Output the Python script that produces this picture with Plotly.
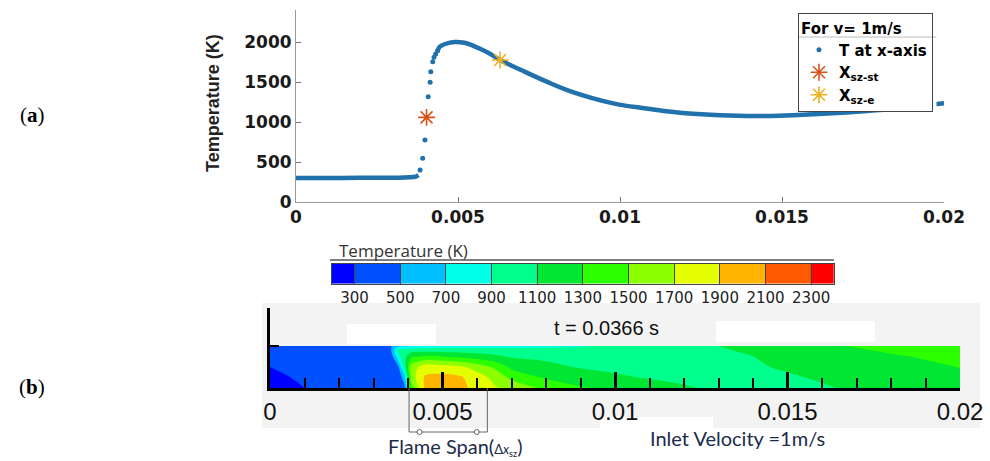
import plotly.graph_objects as go

W, H = 990, 461

# ---------------- (a) temperature along the axis ----------------
# smooth parts of the profile (unburnt gas and post-flame region)
X_FLAT = [0.0, 0.001, 0.002, 0.003, 0.0035, 0.0037, 0.00378]
T_FLAT = [300, 301, 302, 304, 308, 318, 335]

# sparse samples through the steep flame front
X_RISE = [0.00383, 0.00391, 0.00398, 0.00408, 0.00414, 0.00416, 0.00422,
          0.00426, 0.00431, 0.00437]
T_RISE = [400, 546, 775, 1316, 1496, 1629, 1754, 1808, 1850, 1891]

X_TAIL = [0.00437, 0.00444, 0.0046, 0.0049, 0.0052, 0.0054, 0.00568, 0.006,
          0.0063, 0.007, 0.00774, 0.0085, 0.00979, 0.0108, 0.01185, 0.0128,
          0.0139, 0.0149, 0.01597, 0.017, 0.018, 0.019, 0.02]
T_TAIL = [1891, 1941, 1975, 2000, 1990, 1965, 1915, 1850,
          1775, 1640, 1504, 1380, 1233, 1170, 1116, 1090,
          1075, 1078, 1096, 1120, 1150, 1190, 1233]

X_SZ_ST, T_SZ_ST = 0.00403, 1058   # start of flame span
X_SZ_E, T_SZ_E = 0.0063, 1775      # end of flame span

X_TICKS = [0, 0.005, 0.01, 0.015, 0.02]
X_TICK_TEXT = ["0", "0.005", "0.01", "0.015", "0.02"]
Y_TICKS = [0, 500, 1000, 1500, 2000]

# ---------------- (b) temperature field in the channel ----------------
LEVELS = [300, 500, 700, 900, 1100, 1300, 1500, 1700, 1900, 2100, 2300]
BAND_COLORS = ["#0000ff", "#0050ff", "#00bfff", "#00ffe6", "#00ff8c", "#00e632",
               "#2cff00", "#8cff00", "#e6ff00", "#ffb400", "#ff5a00", "#ff0000"]

FIELD_X = [0.0, 0.001, 0.002, 0.003, 0.0035, 0.0037, 0.0039, 0.0041, 0.0045,
           0.005, 0.0055, 0.006, 0.0065, 0.007, 0.008, 0.009, 0.010, 0.011,
           0.012, 0.013, 0.014, 0.015, 0.016, 0.017, 0.018, 0.019, 0.020]
FIELD_ETA = [0.0, 0.25, 0.5, 0.75, 0.9, 1.0]   # 0 = axis, 1 = wall
T_ETA_000 = [250, 300, 310, 310, 315, 320, 450, 1400, 1950, 2000, 1950, 1845, 1720,
             1640, 1450, 1320, 1230, 1160, 1110, 1085, 1072, 1075, 1090, 1115, 1150, 1190, 1230]
T_ETA_025 = [270, 320, 320, 320, 320, 330, 620, 1600, 1930, 1960, 1930, 1790, 1650,
             1450, 1275, 1200, 1120, 1090, 1080, 1075, 1075, 1090, 1110, 1140, 1180, 1220, 1260]
T_ETA_050 = [300, 330, 330, 330, 335, 420, 1000, 1600, 1800, 1790, 1740, 1620, 1470,
             1250, 1150, 1085, 1070, 1060, 1065, 1075, 1090, 1110, 1150, 1180, 1220, 1260, 1305]
T_ETA_075 = [330, 340, 340, 340, 360, 800, 1050, 1250, 1330, 1300, 1260, 1200, 1140,
             1080, 1060, 1040, 1030, 1040, 1055, 1070, 1100, 1140, 1190, 1230, 1275, 1320, 1360]
T_ETA_090 = [340, 340, 340, 340, 470, 900, 1000, 1020, 1020, 1020, 1010, 1000, 1000,
             1000, 990, 990, 1000, 1030, 1050, 1080, 1130, 1190, 1240, 1275, 1330, 1370, 1410]
T_ETA_100 = [340, 340, 340, 340, 480, 620, 650, 700, 760, 780, 790, 800, 800,
             810, 830, 880, 940, 1000, 1050, 1100, 1150, 1200, 1255, 1320, 1380, 1420, 1450]

BLUE = "#2071ac"


def px_x(p):
    return p / W


def px_y(p):
    return 1 - p / H


fig = go.Figure()

# curve: smooth sections as a line, broken across the front
fig.add_trace(go.Scatter(
    x=X_FLAT + [None] + X_TAIL, y=T_FLAT + [None] + T_TAIL,
    mode="lines", line=dict(color=BLUE, width=4.5, shape="spline"),
    connectgaps=False, showlegend=False, hoverinfo="skip",
    xaxis="x", yaxis="y"))
fig.add_trace(go.Scatter(
    x=X_RISE, y=T_RISE, mode="markers", name="T at x-axis",
    marker=dict(color=BLUE, size=5), xaxis="x", yaxis="y"))
fig.add_trace(go.Scatter(
    x=[X_SZ_ST], y=[T_SZ_ST], mode="markers", name="X<sub>sz-st</sub>",
    marker=dict(symbol="asterisk-open", size=14, color="#D95319",
                line=dict(color="#D95319", width=1.6)), xaxis="x", yaxis="y"))
fig.add_trace(go.Scatter(
    x=[X_SZ_E], y=[T_SZ_E], mode="markers", name="X<sub>sz-e</sub>",
    marker=dict(symbol="asterisk-open", size=14, color="#EDB120",
                line=dict(color="#EDB120", width=1.6)), xaxis="x", yaxis="y"))

# contour field; fill colour of each band taken at its mid value
n_bands = len(BAND_COLORS)
band_scale = [[k / (n_bands - 1), c] for k, c in enumerate(BAND_COLORS)]
step = LEVELS[1] - LEVELS[0]
fig.add_trace(go.Contour(
    x=FIELD_X, y=FIELD_ETA,
    z=[T_ETA_000, T_ETA_025, T_ETA_050, T_ETA_075, T_ETA_090, T_ETA_100],
    autocontour=False,
    contours=dict(start=LEVELS[0], end=LEVELS[-1], size=step,
                  coloring="fill", showlines=False),
    line=dict(width=0, smoothing=1.0),
    colorscale=band_scale, showscale=False, hoverinfo="skip",
    xaxis="x2", yaxis="y2"))

# horizontal colour key
key_edges = [LEVELS[0] - step / 2] + LEVELS + [LEVELS[-1] + step / 2]
key_mids = [LEVELS[0] - step / 2 + step * k for k in range(n_bands)]
fig.add_trace(go.Heatmap(
    x=key_edges, y=[0, 1], z=[key_mids],
    colorscale=band_scale, zmin=key_mids[0], zmax=key_mids[-1],
    showscale=False, hoverinfo="skip", xaxis="x3", yaxis="y3"))

bold_font = dict(family="DejaVu Sans", size=17, color="#1a1a1a", weight="bold")

fig.update_layout(
    width=W, height=H, template="none",
    margin=dict(l=0, r=0, t=0, b=0),
    paper_bgcolor="white", plot_bgcolor="rgba(0,0,0,0)",
    showlegend=True,
    xaxis=dict(domain=[px_x(296), px_x(944)], range=[0, 0.02], anchor="y",
               tickvals=X_TICKS, ticktext=X_TICK_TEXT, tickfont=bold_font,
               ticks="inside", ticklen=5, tickcolor="#777", showgrid=False,
               zeroline=False, showline=True, linecolor="#999", linewidth=1),
    yaxis=dict(domain=[px_y(202), px_y(10)], range=[0, 2400], anchor="x",
               tickvals=Y_TICKS, tickfont=bold_font,
               ticks="inside", ticklen=5, tickcolor="#777", showgrid=False,
               zeroline=False, showline=True, linecolor="#999", linewidth=1),
    xaxis2=dict(domain=[px_x(270), px_x(960)], range=[0, 0.02], anchor="y2",
                tickvals=X_TICKS, ticktext=X_TICK_TEXT,
                tickfont=dict(family="Liberation Sans", size=24, color="#111"),
                ticks="inside", ticklen=16, tickwidth=3, tickcolor="black",
                minor=dict(dtick=0.001, ticks="inside", ticklen=10, tickwidth=2,
                           tickcolor="black", showgrid=False),
                showgrid=False, zeroline=False, showline=True, linecolor="black",
                linewidth=3, layer="above traces"),
    yaxis2=dict(domain=[px_y(388), px_y(308)], range=[0, 80 / 42], anchor="x2",
                tickvals=[1], showticklabels=False, ticks="inside", ticklen=9,
                tickwidth=2, tickcolor="black", showgrid=False, zeroline=False,
                showline=True, linecolor="black", linewidth=3,
                layer="above traces"),
    xaxis3=dict(domain=[px_x(331.7), px_x(834)], range=[key_edges[0], key_edges[-1]],
                anchor="y3", tickvals=LEVELS,
                tickfont=dict(family="DejaVu Sans", size=15, color="#222"),
                ticks="inside", ticklen=20, tickcolor="#444", tickwidth=1,
                showgrid=False, zeroline=False, showline=True, mirror=True,
                linecolor="#444", linewidth=1, layer="above traces"),
    yaxis3=dict(domain=[px_y(283.7), px_y(263.7)], range=[0, 1], anchor="x3",
                showticklabels=False, ticks="", showgrid=False, zeroline=False,
                showline=True, mirror=True, linecolor="#444", linewidth=1),
    legend=dict(x=px_x(798), y=px_y(13), xanchor="left", yanchor="top",
                bgcolor="rgba(0,0,0,0)", bordercolor="#444", borderwidth=1,
                font=dict(family="DejaVu Sans", size=15, color="black", weight="bold"),
                title=dict(text="For v= 1m/s",
                           font=dict(family="DejaVu Sans", size=15, color="black",
                                     weight="bold")),
                itemwidth=30, tracegroupgap=0),
)

shapes = [
    # light backdrop of the field view
    dict(type="rect", xref="paper", yref="paper", x0=px_x(262), x1=px_x(980),
         y0=px_y(428), y1=px_y(303), fillcolor="#f3f3f3", line=dict(width=0),
         layer="below"),
    dict(type="rect", xref="paper", yref="paper", x0=px_x(347), x1=px_x(436),
         y0=px_y(344), y1=px_y(324), fillcolor="white", line=dict(width=0),
         layer="below"),
    dict(type="rect", xref="paper", yref="paper", x0=px_x(716), x1=px_x(875),
         y0=px_y(342), y1=px_y(321), fillcolor="white", line=dict(width=0),
         layer="below"),
    dict(type="rect", xref="paper", yref="paper", x0=px_x(600), x1=px_x(713),
         y0=px_y(430), y1=px_y(417), fillcolor="white", line=dict(width=0),
         layer="below"),
    # rule under the key title
    dict(type="line", xref="paper", yref="paper", x0=px_x(330), x1=px_x(834),
         y0=px_y(260), y1=px_y(260), line=dict(color="#555", width=1.5)),
    # legend panel: white card behind the entries and a rule under its title
    dict(type="rect", xref="paper", yref="paper", x0=px_x(798.5), x1=px_x(936.5),
         y0=px_y(111), y1=px_y(13.5), fillcolor="white", line=dict(width=0),
         layer="above"),
    dict(type="line", xref="paper", yref="paper", x0=px_x(798.5), x1=px_x(936.5),
         y0=px_y(37), y1=px_y(37), line=dict(color="#bbb", width=1),
         layer="above"),
    # flame span bracket
    dict(type="line", xref="x2", yref="paper", x0=X_SZ_ST, x1=X_SZ_ST,
         y0=px_y(388), y1=px_y(432), line=dict(color="#666", width=1)),
    dict(type="line", xref="x2", yref="paper", x0=X_SZ_E, x1=X_SZ_E,
         y0=px_y(388), y1=px_y(432), line=dict(color="#666", width=1)),
    dict(type="line", xref="x2", yref="paper", x0=X_SZ_ST, x1=X_SZ_E,
         y0=px_y(432), y1=px_y(432), line=dict(color="#666", width=1)),
]
for xa, off in ((X_SZ_ST, (8, 13)), (X_SZ_E, (-13, -8))):
    shapes.append(dict(type="circle", xref="x2", yref="paper",
                       xsizemode="pixel", ysizemode="pixel",
                       xanchor=xa, yanchor=px_y(432),
                       x0=off[0], x1=off[1], y0=-2.5, y1=2.5,
                       fillcolor="white", line=dict(color="#666", width=1)))
fig.update_layout(shapes=shapes)

annotations = [
    dict(text="Temperature (K)", x=px_x(213), y=px_y(103), textangle=-90,
         font=dict(family="Liberation Sans", size=18, color="#222", weight="bold")),
    dict(text="(<b>a</b>)", x=px_x(32), y=px_y(115),
         font=dict(family="Liberation Serif", size=21, color="black")),
    dict(text="(<b>b</b>)", x=px_x(32), y=px_y(387),
         font=dict(family="Liberation Serif", size=21, color="black")),
    dict(text="Temperature (K)", x=px_x(337), y=px_y(250), xanchor="left",
         font=dict(family="Open Sans", size=17, color="#333")),
    dict(text="t = 0.0366 s", x=px_x(606), y=px_y(328),
         font=dict(family="Liberation Sans", size=20, color="#111")),
    dict(text="Flame Span(<span style='font-size:13px'>Δ<i>x</i><sub>sz</sub></span>)",
         x=px_x(386), y=px_y(446), xanchor="left",
         font=dict(family="Lato", size=20, color="#1c2b4a")),
    dict(text="Inlet Velocity =1m/s", x=px_x(648), y=px_y(438), xanchor="left",
         font=dict(family="Lato", size=20, color="#1c2b4a")),
]
for a in annotations:
    a.update(xref="paper", yref="paper", showarrow=False)
    a.setdefault("xanchor", "center")
    a.setdefault("yanchor", "middle")
fig.update_layout(annotations=annotations)

fig.write_html("out.html")
